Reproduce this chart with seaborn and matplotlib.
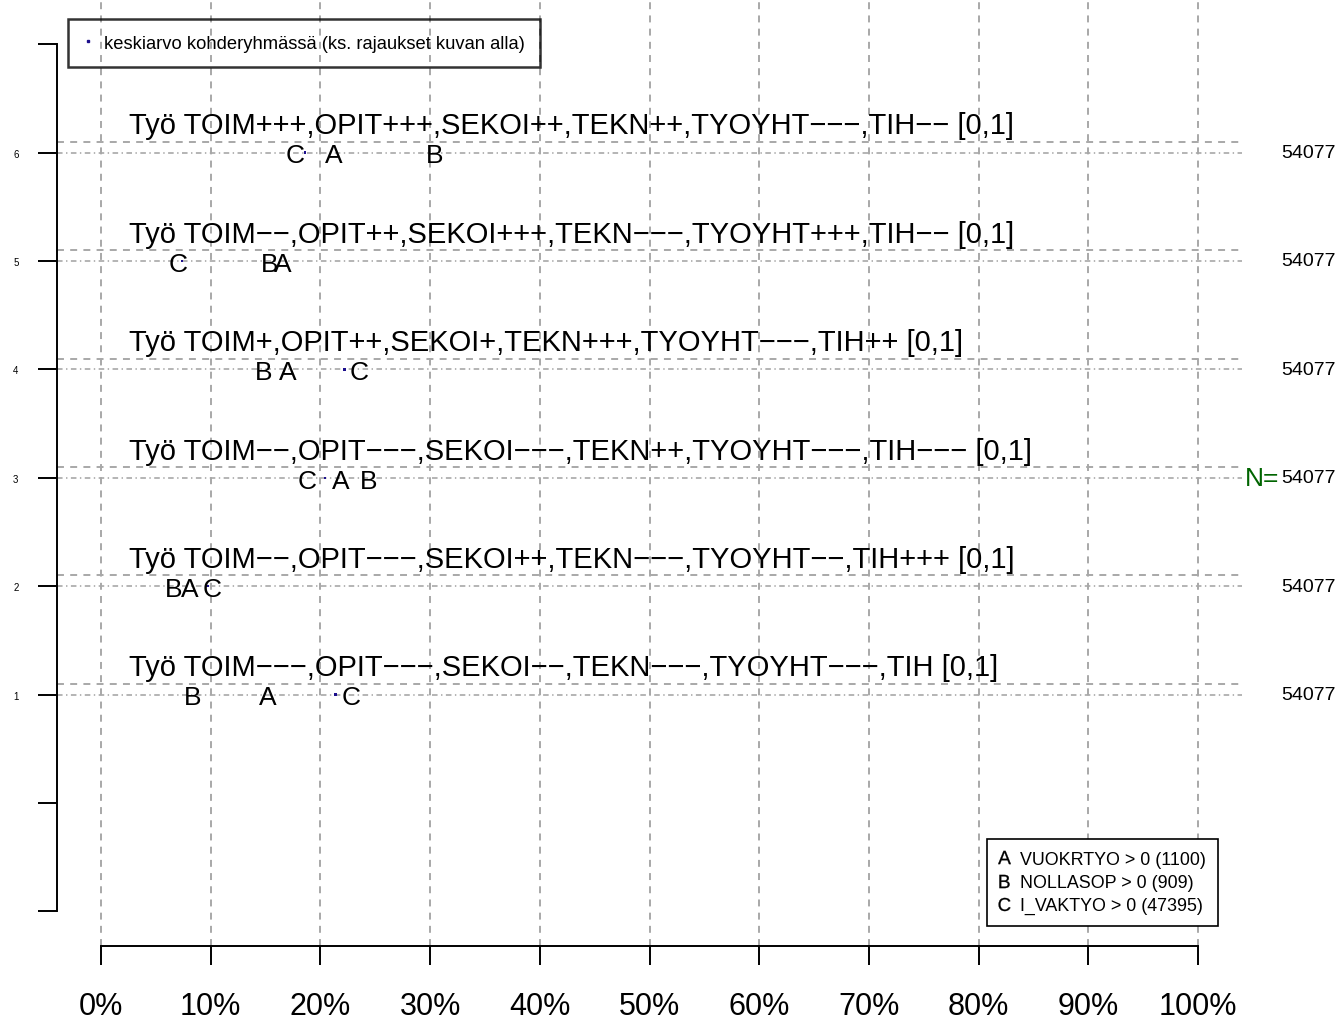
import numpy as np
import pandas as pd
import matplotlib
matplotlib.use("Agg")
import matplotlib.pyplot as plt
import seaborn as sns
from matplotlib.lines import Line2D

# rivit (y) ja niiden otsikot
rivit = [1, 2, 3, 4, 5, 6]
otsikot = [
    "Työ TOIM−−−,OPIT−−−,SEKOI−−,TEKN−−−,TYOYHT−−−,TIH [0,1]",
    "Työ TOIM−−,OPIT−−−,SEKOI++,TEKN−−−,TYOYHT−−,TIH+++ [0,1]",
    "Työ TOIM−−,OPIT−−−,SEKOI−−−,TEKN++,TYOYHT−−−,TIH−−− [0,1]",
    "Työ TOIM+,OPIT++,SEKOI+,TEKN+++,TYOYHT−−−,TIH++ [0,1]",
    "Työ TOIM−−,OPIT++,SEKOI+++,TEKN−−−,TYOYHT+++,TIH−− [0,1]",
    "Työ TOIM+++,OPIT+++,SEKOI++,TEKN++,TYOYHT−−−,TIH−− [0,1]",
]
# osuudet ryhmittäin
osuus_A = [0.152, 0.081, 0.219, 0.170, 0.166, 0.212]
osuus_B = [0.084, 0.066, 0.244, 0.148, 0.154, 0.304]
osuus_C = [0.228, 0.101, 0.188, 0.235, 0.070, 0.177]
keskiarvo = [0.214, 0.097, 0.204, 0.222, 0.074, 0.186]
n_rivi = [54077, 54077, 54077, 54077, 54077, 54077]

ryhmat = ["A", "B", "C"]
ryhma_selite = ["VUOKRTYO > 0 (1100)", "NOLLASOP > 0 (909)", "I_VAKTYO > 0 (47395)"]
x_ticks = [0.0, 0.1, 0.2, 0.3, 0.4, 0.5, 0.6, 0.7, 0.8, 0.9, 1.0]
x_labels = ["0%", "10%", "20%", "30%", "40%", "50%", "60%", "70%", "80%", "90%", "100%"]
y_ticks = [-1, 0, 1, 2, 3, 4, 5, 6, 7]
y_labels = ["", "", "1", "2", "3", "4", "5", "6", ""]

sns.set_style("white")
plt.rcParams['font.family'] = ['Liberation Sans', 'DejaVu Sans']
plt.rcParams['mathtext.fontset'] = 'custom'
plt.rcParams['mathtext.sf'] = 'Liberation Sans'
plt.rcParams['mathtext.rm'] = 'Liberation Sans'
plt.rcParams['lines.scale_dashes'] = False
for k in ['text.color', 'axes.labelcolor', 'xtick.color', 'ytick.color']:
    plt.rcParams[k] = 'black'

W, H = 1341, 1020
fig = plt.figure(figsize=(W / 100, H / 100), dpi=100)
ax = fig.add_axes([57 / W, (H - 947) / H, (1242 - 57) / W, 947 / H])
ax.set_xlim(-0.04, 1.04)
ax.set_ylim(-1.32, 7.417)

grey = "#a8a8a8"
for t in x_ticks:
    ax.axvline(t, color=grey, lw=1.4, ls=(0, (5, 4.5)), zorder=1)
for r in rivit:
    ax.axhline(r + 0.1, color=grey, lw=1.4, ls=(0, (5, 4.5)), zorder=1)
    ax.axhline(r, color=grey, lw=1.2, ls=(0, (4, 2.5, 1, 2.5)), zorder=1)

# keskiarvot
df = pd.DataFrame({"x": keskiarvo, "y": rivit})
sns.scatterplot(data=df, x="x", y="y", ax=ax, marker="s", s=3, color="#1c0f8c",
                edgecolor="none", zorder=3, legend=False)

# ryhmien kirjaimet
for lab, vals in zip(ryhmat, [osuus_A, osuus_B, osuus_C]):
    for r, v in zip(rivit, vals):
        ax.text(v, r - 0.09, lab, ha="center", va="baseline", fontsize=19, zorder=4)

for r, o, n in zip(rivit, otsikot, n_rivi):
    ax.text(0.026, r + 0.177, o, ha="left", va="baseline", fontsize=21, zorder=4)
    ax.text(1.0757, r, str(n), ha="left", va="center", fontsize=14, clip_on=False)
ax.text(1.074, 3, "N=", ha="right", va="center", fontsize=19, color="#006400", clip_on=False)

# akselit
for s in ["top", "right"]:
    ax.spines[s].set_visible(False)
ax.spines["left"].set_bounds(-1, 7)
ax.spines["bottom"].set_bounds(0, 1)
for s in ["left", "bottom"]:
    ax.spines[s].set_linewidth(1.4)
    ax.spines[s].set_color("black")
ax.set_yticks(y_ticks)
ax.set_yticklabels(y_labels)
ax.set_xticks(x_ticks)
ax.set_xticklabels(x_labels)
ax.tick_params(axis="y", length=13.7, width=1.4, pad=14, labelsize=7, direction="out", left=True)
ax.tick_params(axis="x", length=13.7, width=1.4, pad=19, labelsize=22, direction="out", bottom=True)
ax.set_xlabel("")
ax.set_ylabel("")

# selitteet
h1 = [Line2D([], [], marker="s", ms=1.6, ls="", color="#1c0f8c")]
leg1 = ax.legend(h1, ["keskiarvo kohderyhmässä (ks. rajaukset kuvan alla)"],
                 loc="upper left", bbox_to_anchor=(68 / W, 1 - 20 / H),
                 bbox_transform=fig.transFigure, borderaxespad=0, fontsize=13.2,
                 handlelength=0.5, handletextpad=0.6, borderpad=0.85,
                 frameon=True, fancybox=False)
leg1.get_frame().set_edgecolor("black")
leg1.get_frame().set_facecolor("none")
leg1.get_frame().set_linewidth(1.8)
ax.add_artist(leg1)

h2 = [Line2D([], [], marker=r"$\mathrm{%s}$" % g, ms=9.5, mew=0.2, ls="", color="black")
      for g in ryhmat]
leg2 = ax.legend(h2, ryhma_selite, loc="lower right",
                 bbox_to_anchor=(1218 / W, 1 - 927 / H),
                 bbox_transform=fig.transFigure, borderaxespad=0, fontsize=12.9,
                 handlelength=0.6, handletextpad=0.6, borderpad=0.65, labelspacing=0.35,
                 frameon=True, fancybox=False, framealpha=1)
leg2.get_frame().set_edgecolor("black")
leg2.get_frame().set_linewidth(1.2)
leg2.get_frame().set_facecolor("white")
leg2.set_zorder(5)

fig.savefig("out.png", dpi=100)
